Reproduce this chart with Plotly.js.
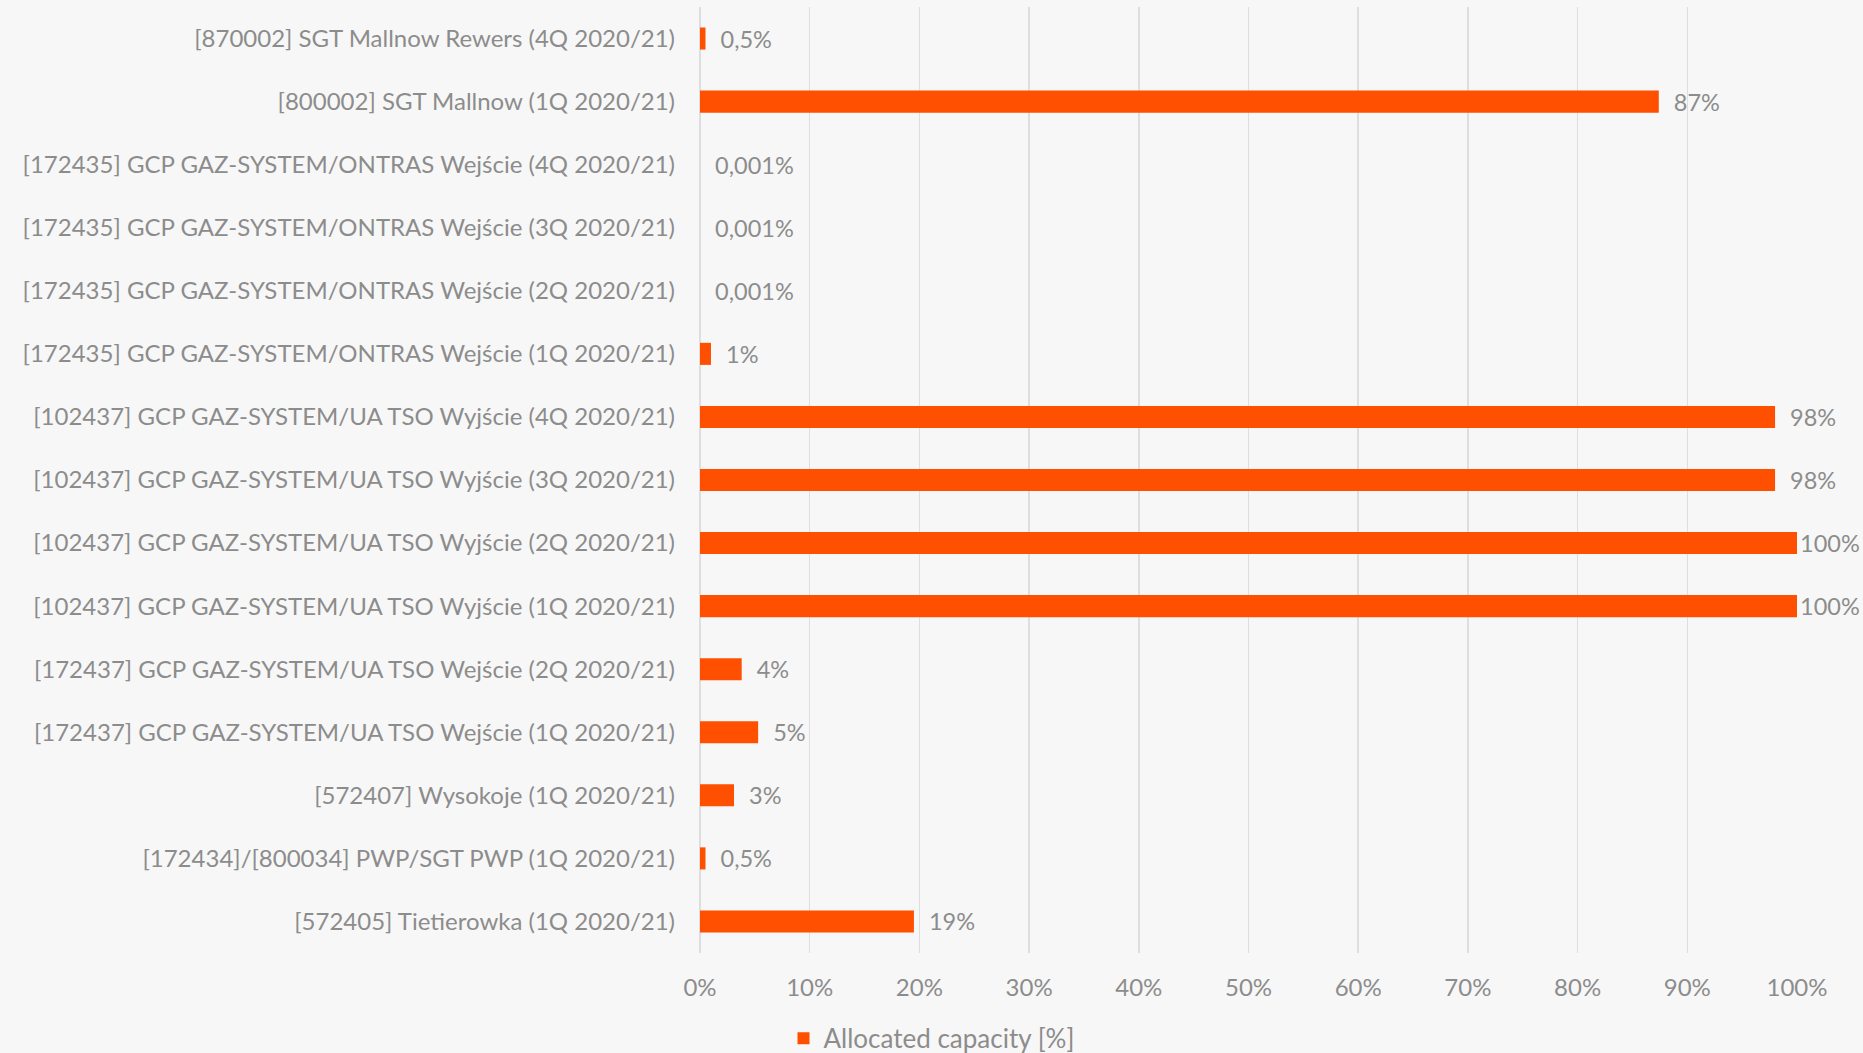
<!DOCTYPE html>
<html>
<head>
<meta charset="utf-8">
<script src="https://cdn.plot.ly/plotly-3.0.1.min.js"></script>
<style>
html,body{margin:0;padding:0;background:#f7f7f7;}
#chart{width:1863px;height:1053px;}
</style>
</head>
<body>
<div id="chart"></div>
<script>
// Categories listed top to bottom as in the reference
const categories = [
  "[870002] SGT Mallnow Rewers (4Q 2020/21)",
  "[800002] SGT Mallnow (1Q 2020/21)",
  "[172435] GCP GAZ-SYSTEM/ONTRAS Wejście (4Q 2020/21)",
  "[172435] GCP GAZ-SYSTEM/ONTRAS Wejście (3Q 2020/21)",
  "[172435] GCP GAZ-SYSTEM/ONTRAS Wejście (2Q 2020/21)",
  "[172435] GCP GAZ-SYSTEM/ONTRAS Wejście (1Q 2020/21)",
  "[102437] GCP GAZ-SYSTEM/UA TSO Wyjście (4Q 2020/21)",
  "[102437] GCP GAZ-SYSTEM/UA TSO Wyjście (3Q 2020/21)",
  "[102437] GCP GAZ-SYSTEM/UA TSO Wyjście (2Q 2020/21)",
  "[102437] GCP GAZ-SYSTEM/UA TSO Wyjście (1Q 2020/21)",
  "[172437] GCP GAZ-SYSTEM/UA TSO Wejście (2Q 2020/21)",
  "[172437] GCP GAZ-SYSTEM/UA TSO Wejście (1Q 2020/21)",
  "[572407] Wysokoje (1Q 2020/21)",
  "[172434]/[800034] PWP/SGT PWP (1Q 2020/21)",
  "[572405] Tietierowka (1Q 2020/21)"
];
// Allocated capacity in percent
const allocated = [0.5, 87.4, 0.001, 0.001, 0.001, 1, 98, 98, 100, 100, 3.8, 5.3, 3.1, 0.5, 19.5];
// Data labels as printed on the chart
const valueLabels = ["0,5%", "87%", "0,001%", "0,001%", "0,001%", "1%", "98%", "98%", "100%", "100%", "4%", "5%", "3%", "0,5%", "19%"];
const xTickValues = [0, 10, 20, 30, 40, 50, 60, 70, 80, 90, 100];
const seriesName = "Allocated capacity [%]";

const FONT = "Lato, 'Open Sans', sans-serif";
const GRAY = "#8c8c8c";
const pad = "\u00a0\u00a0";

const trace = {
  type: "bar",
  orientation: "h",
  name: seriesName,
  y: categories,
  x: allocated,
  // labels at the right edge of the axis sit tight against the bar end
  text: valueLabels.map((t, i) => (allocated[i] >= 100 ? "" : pad) + t),
  textposition: "outside",
  constraintext: "none",
  cliponaxis: false,
  textfont: {family: FONT, size: 23.5, color: GRAY},
  marker: {color: "#ff4f00"},
  width: 0.35,
  hoverinfo: "x+y",
  showlegend: true
};

const layout = {
  width: 1863,
  height: 1053,
  paper_bgcolor: "#f7f7f7",
  plot_bgcolor: "#f7f7f7",
  margin: {l: 700, r: 66, t: 7, b: 100, pad: 0},
  font: {family: FONT, color: GRAY, size: 24},
  showlegend: true,
  legend: {
    orientation: "h",
    xref: "container", yref: "container",
    x: 0.5, xanchor: "center",
    y: 0.014, yanchor: "middle",
    font: {family: FONT, size: 26, color: GRAY},
    itemwidth: 30,
    bgcolor: "rgba(0,0,0,0)"
  },
  xaxis: {
    range: [0, 100],
    tickvals: xTickValues,
    ticktext: xTickValues.map(v => v + "%"),
    showgrid: true,
    gridcolor: "#dedede",
    gridwidth: 1.5,
    zeroline: true,
    zerolinecolor: "#dedede",
    zerolinewidth: 1.5,
    showline: false,
    ticks: "",
    ticklabelstandoff: 18,
    tickfont: {family: FONT, size: 24, color: GRAY},
    fixedrange: true
  },
  yaxis: {
    type: "category",
    autorange: "reversed",
    showgrid: false,
    zeroline: false,
    showline: false,
    ticks: "",
    ticklabelstandoff: 24,
    tickfont: {family: FONT, size: 24, color: GRAY},
    fixedrange: true
  },
  bargap: 0.65
};

Plotly.newPlot("chart", [trace], layout, {displayModeBar: false, staticPlot: true});
</script>
</body>
</html>
